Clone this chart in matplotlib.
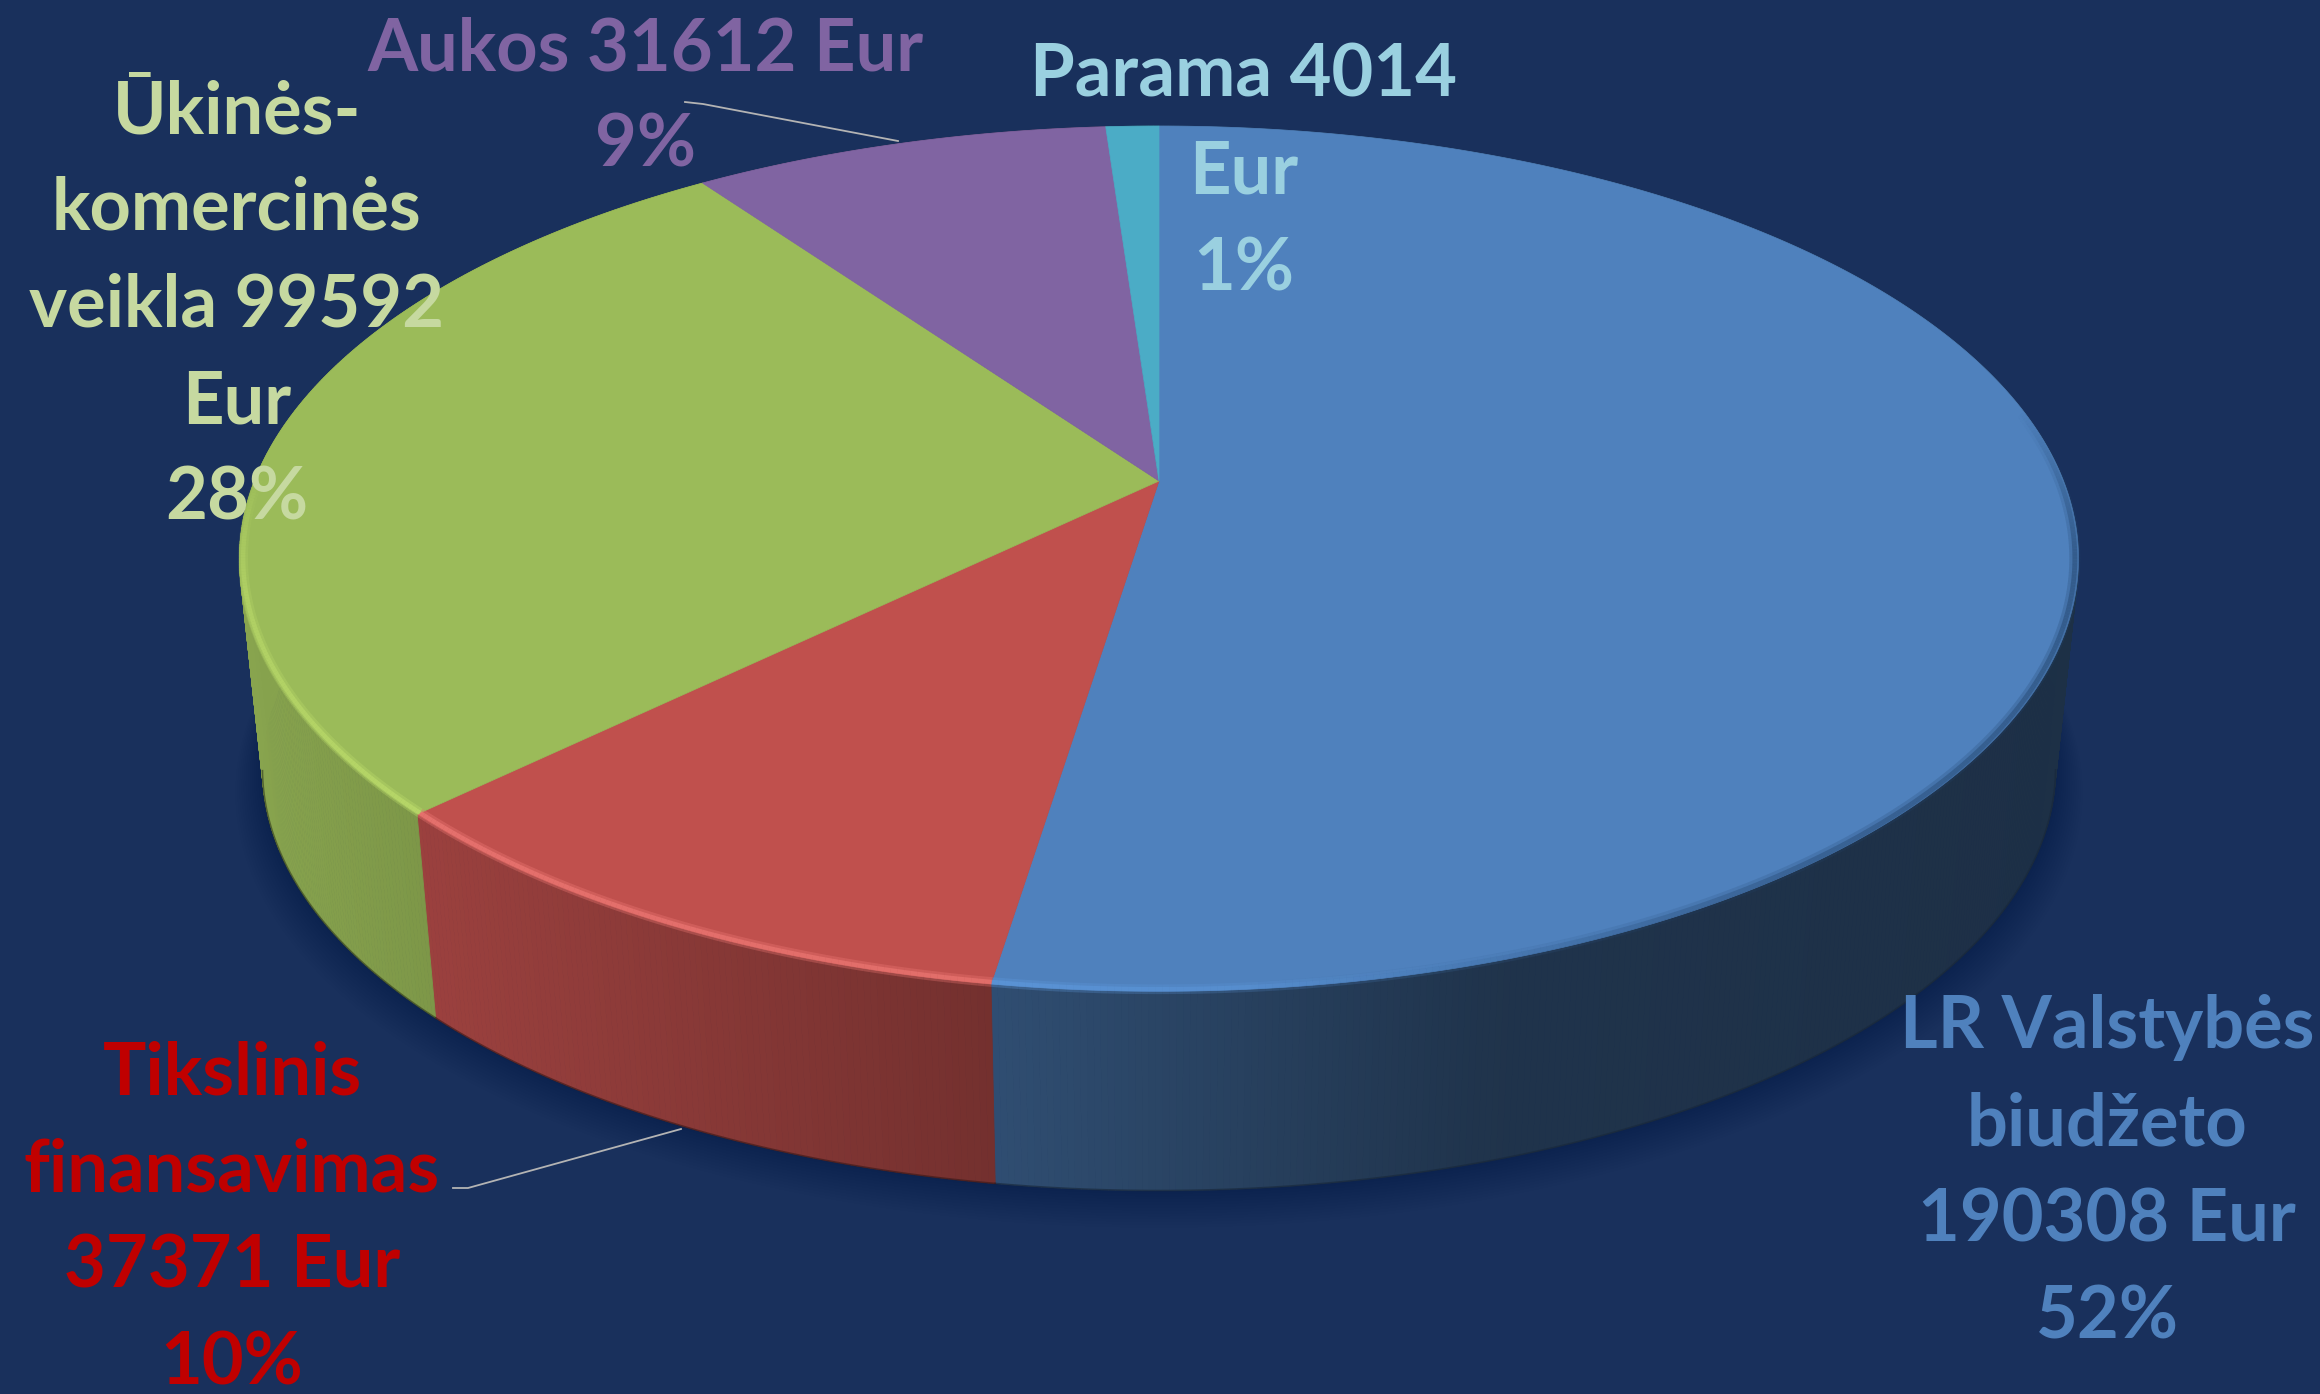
import matplotlib
matplotlib.use("Agg")
import matplotlib.pyplot as plt
import numpy as np
from matplotlib.collections import LineCollection, PolyCollection
from matplotlib.colors import to_rgb

# chart data, clockwise from 12 o'clock
names = ["LR Valstybės biudžeto", "Tikslinis finansavimas", "Ūkinės-komercinės veikla", "Aukos", "Parama"]
values = [190308, 37371, 99592, 31612, 4014]
percents = ["52%", "10%", "28%", "9%", "1%"]

top_colors = ["#4f81bd", "#c0504d", "#9bbb59", "#8064a2", "#4bacc6"]
glow_colors = ["#5f9be0", "#f07a76", "#bede6c", "#8064a2", "#4bacc6"]
text_colors = ["#4f81bd", "#c00000", "#c6d9a0", "#8064a2", "#9ad0e0"]

label_lines = [
    "LR Valstybės\nbiudžeto\n190308 Eur\n" + percents[0],
    "Tikslinis\nfinansavimas\n37371 Eur\n" + percents[1],
    "Ūkinės-\nkomercinės\nveikla 99592\nEur\n" + percents[2],
    "Aukos 31612 Eur\n" + percents[3],
    "Parama 4014\nEur\n" + percents[4],
]
label_x = [2107, 232, 237, 645, 1244]
label_y = [1173, 1219, 306, 98, 173]

BG = "#19305c"
W, H = 2320, 1394

# perspective disc, pixel units
CX, TOP_Y, BOT_Y = 1159, 481, 693
A, B, K = 904.6, 418.7, 0.1795
BOT_SCALE = 0.975

# how dark the side wall gets going left to right
wall_x = [250, 430, 1000, 1480, 2060]
wall_f = [0.88, 0.81, 0.60, 0.40, 0.37]


def project(theta, scale, cy):
    den = 1 + K * np.cos(theta)
    x = CX + scale * A * np.sin(theta) / den
    y = cy - scale * B * np.cos(theta) / den
    return x, y


def rim_lines(segs, color, alpha, width):
    rgba = np.zeros((len(segs), 4))
    rgba[:, :3] = to_rgb(color)
    rgba[:, 3] = alpha
    ax.add_collection(LineCollection(segs, colors=rgba, linewidths=width, zorder=4))


fig = plt.figure(figsize=(W / 100, H / 100), dpi=100, facecolor=BG)
ax = fig.add_axes([0, 0, 1, 1])
ax.set_xlim(0, W)
ax.set_ylim(H, 0)
ax.set_axis_off()

edges = np.concatenate([[0], np.cumsum(values)]) / np.sum(values) * 2 * np.pi

# soft shadow under the disc
ring = np.linspace(0, 2 * np.pi, 400)
for s, dy in zip(np.linspace(1.03, 1.0, 14), np.linspace(22, 0, 14)):
    sx, sy = project(ring, s * BOT_SCALE, BOT_Y + dy)
    ax.fill(sx, sy, color="#0c1a40", alpha=0.03, lw=0, zorder=1)

# side wall, thin quads so the shade can change with x
for i in range(len(values)):
    th = np.linspace(edges[i], edges[i + 1], max(int((edges[i + 1] - edges[i]) * 160), 4))
    x0, y0 = project(th, 1, TOP_Y)
    x1, y1 = project(th, BOT_SCALE, BOT_Y)
    quads = []
    cols = []
    base = np.array(to_rgb(top_colors[i]))
    for j in range(len(th) - 1):
        quads.append([(x0[j], y0[j]), (x0[j + 1], y0[j + 1]), (x1[j + 1], y1[j + 1]), (x1[j], y1[j])])
        cols.append(base * np.interp((x1[j] + x1[j + 1]) / 2, wall_x, wall_f))
    ax.add_collection(PolyCollection(quads, facecolors=cols, edgecolors=cols, linewidths=0.6, zorder=2))
    # only the front part of the bottom edge can be seen, up to the tangent points
    front = np.cos(th) < -K
    if front.any():
        ax.plot(x1[front], y1[front], color=base * 0.3, lw=1.2, alpha=0.6, zorder=2.5)

# top face
for i in range(len(values)):
    th = np.linspace(edges[i], edges[i + 1], max(int((edges[i + 1] - edges[i]) * 160), 4))
    x, y = project(th, 1, TOP_Y)
    ax.fill(np.r_[CX, x], np.r_[TOP_Y, y], color=top_colors[i], lw=0.5, zorder=3)

# bevel: light stripe on the front rim, fades out to both sides
for i in range(len(values)):
    th = np.linspace(edges[i], edges[i + 1], max(int((edges[i + 1] - edges[i]) * 160), 4))
    x, y = project(th, 0.996, TOP_Y)
    pts = np.column_stack([x, y])
    segs = np.stack([pts[:-1], pts[1:]], axis=1)
    deg = np.degrees(th[:-1])
    a = np.interp(deg, [150, 190, 225, 255, 272], [0, 0.9, 1, 0.7, 0])
    rim_lines(segs, glow_colors[i], a * 0.35, 7)
    rim_lines(segs, glow_colors[i], a * 0.65, 3.2)
    # right side of the rim blurs into the dark wall
    a2 = np.interp(deg, [80, 100, 140, 175], [0, 0.5, 0.4, 0])
    rim_lines(segs, "#24466f", a2 * 0.5, 8)
    rim_lines(segs, "#24466f", a2, 3.5)

# leader lines
ax.plot([685, 703, 898], [102, 104, 141], color="#b4b4b4", lw=1.3, zorder=5)
ax.plot([453, 468, 681], [1188, 1188, 1129], color="#b4b4b4", lw=1.3, zorder=5)

for txt, tx, ty, col in zip(label_lines, label_x, label_y, text_colors):
    ax.text(tx, ty, txt, color=col, ha="center", va="center", multialignment="center",
            fontsize=52, fontweight="bold", family=["Lato", "DejaVu Sans"],
            linespacing=1.55, zorder=6)

fig.savefig("out.png", dpi=100, facecolor=BG)
